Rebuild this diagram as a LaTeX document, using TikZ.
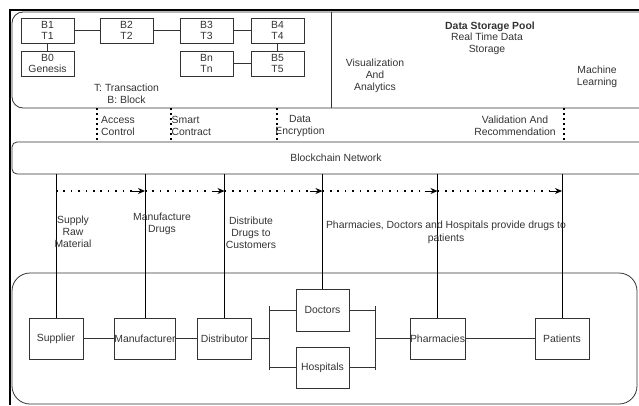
\documentclass[tikz,border=0pt]{standalone}
\usepackage{fontspec}
\setmainfont{Liberation Sans}
\usetikzlibrary{arrows.meta,calc}
\definecolor{ln}{HTML}{333333}
\begin{document}
\begin{tikzpicture}[x=1pt,y=-1pt, font=\fontsize{10.4}{12}\selectfont, text=ln,
 blk/.style={draw=ln, line width=0.8pt, minimum width=53pt, minimum height=25pt, inner sep=0pt, align=center, font=\fontsize{10.4}{11.5}\selectfont},
 ent/.style={draw=ln, line width=0.8pt, minimum width=54pt, minimum height=41pt, inner sep=0pt},
 lbl/.style={align=center, inner sep=0pt},
 wire/.style={draw=ln, line width=0.8pt},
 vline/.style={draw=black, line width=0.8pt},
 dotv/.style={draw=black, line width=1.5pt, dash pattern=on 1.5pt off 3.5pt},
 doth/.style={draw=black, line width=1.6pt, dash pattern=on 1.6pt off 5.8pt},
 arr/.style={draw=black, line width=0.9pt, -{Stealth[length=7pt,width=6pt]}},
]
\useasboundingbox (0,0) rectangle (639,405);
\begin{scope}
\clip (0,0) rectangle (639,405);
% panels
\node[draw=ln, line width=0.8pt, rounded corners=11pt, minimum width=638pt, minimum height=96pt, inner sep=0pt] (top) at (331,60) {};
\draw[wire] (top.north -| 331,0) -- (top.south -| 331,0);
\node[draw=ln, line width=0.8pt, rounded corners=5pt, minimum width=648pt, minimum height=32pt, inner sep=0pt] (bc) at (336,158) {Blockchain Network};
\node[draw=ln, line width=0.8pt, rounded corners=18pt, minimum width=625pt, minimum height=131pt, inner sep=0pt] (bottom) at (324.5,338.5) {};
\end{scope}
% outer frame
\draw[black, line width=2pt] (639,10) -- (10,10) -- (10,405);
% blocks
\node[blk] (b1) at (47.5,30.5) {B1\\T1};
\node[blk] (b0) at (47.5,63.5) {B0\\Genesis};
\node[blk] (b2) at (126.5,30.5) {B2\\T2};
\node[blk] (b3) at (206.5,30.5) {B3\\T3};
\node[blk] (b4) at (277.5,30.5) {B4\\T4};
\node[blk] (bn) at (206.5,63.5) {Bn\\Tn};
\node[blk] (b5) at (277.5,63.5) {B5\\T5};
\draw[wire] (b1) -- (b2);
\draw[wire] (b2) -- (b3);
\draw[wire] (b3) -- (b4);
\draw[wire] (b1) -- (b0);
\draw[wire] (b4) -- (b5);
\draw[wire] (bn) -- (b5);
\node[lbl] (legend) at (126.5,93.5) {T: Transaction\\B: Block};
% data storage pool
\node[lbl, font=\fontsize{10.4}{12}\selectfont\bfseries] (dsp) at (490,27) {Data Storage Pool};
\node[lbl] (rtd) at (487,43.5) {Real Time Data\\Storage};
\node[lbl] (vis) at (375,76) {Visualization\\And\\Analytics};
\node[lbl] (ml) at (597,76.5) {Machine\\Learning};
% dotted links between panels
\foreach \x in {97,171,277,564} {
  \draw[dotv] (top.south -| \x,0) -- (bc.north -| \x,0);
}
\node[lbl, align=left, anchor=west] (ac) at (101,125.5) {Access\\Control};
\node[lbl, align=left, anchor=west] (sc) at (171.5,125.5) {Smart\\Contract};
\node[lbl] (de) at (300,125.5) {Data\\Encryption};
\node[lbl] (vr) at (515,125.5) {Validation And\\Recommendation};
% entities
\node[ent] (sup) at (56,338.5) {Supplier};
\node[ent] (man) at (145,338.5) {Manufacturer};
\node[ent] (dis) at (224.5,338.5) {Distributor};
\node[ent, minimum width=53pt, minimum height=42pt] (doc) at (322.5,310) {Doctors};
\node[ent, minimum width=53pt] (hos) at (322.5,367.5) {Hospitals};
\node[ent] (pha) at (437.5,338.5) {Pharmacies};
\node[ent] (pat) at (562,338.5) {Patients};
\draw[wire] (sup) -- (man);
\draw[wire] (man) -- (dis);
\draw[wire] (pha) -- (pat);
\coordinate (blt) at (269,306);
\coordinate (blb) at (269,370);
\coordinate (brt) at (375,306);
\coordinate (brb) at (375,370);
\draw[wire] (blt) -- (blb);
\draw[wire] (brt) -- (brb);
\draw[wire] (dis.east) -- (dis.east -| blt);
\draw[wire] (doc.west -| blt) -- (doc.west);
\draw[wire] (hos.west -| blt) -- (hos.west);
\draw[wire] (doc.east) -- (doc.east -| brt);
\draw[wire] (hos.east) -- (hos.east -| brt);
\draw[wire] (pha.west -| brt) -- (pha.west);
% vertical lines from the blockchain network
\foreach \n in {sup,man,dis,doc,pha,pat} {
  \draw[vline] (bc.south -| \n.north) -- (\n.north);
  \coordinate (h\n) at (\n.north |- 0,191);
}
% dotted flow arrows
\foreach \a/\b in {sup/man,man/dis,dis/doc,doc/pha,pha/pat} {
  \draw[doth] (h\a) -- ($(h\b)+(-13,0)$);
  \draw[arr] ($(h\b)+(-13,0)$) -- (h\b);
}
% flow labels
\node[lbl] (l1) at (73,232) {Supply\\Raw\\Material};
\node[lbl] (l2) at (162,224) {Manufacture\\Drugs};
\node[lbl] (l3) at (251,232.5) {Distribute\\Drugs to\\Customers};
\node[lbl, font=\fontsize{10.4}{13}\selectfont] (l4) at (446,232) {Pharmacies, Doctors and Hospitals provide drugs to\\patients};
\end{tikzpicture}
\end{document}
